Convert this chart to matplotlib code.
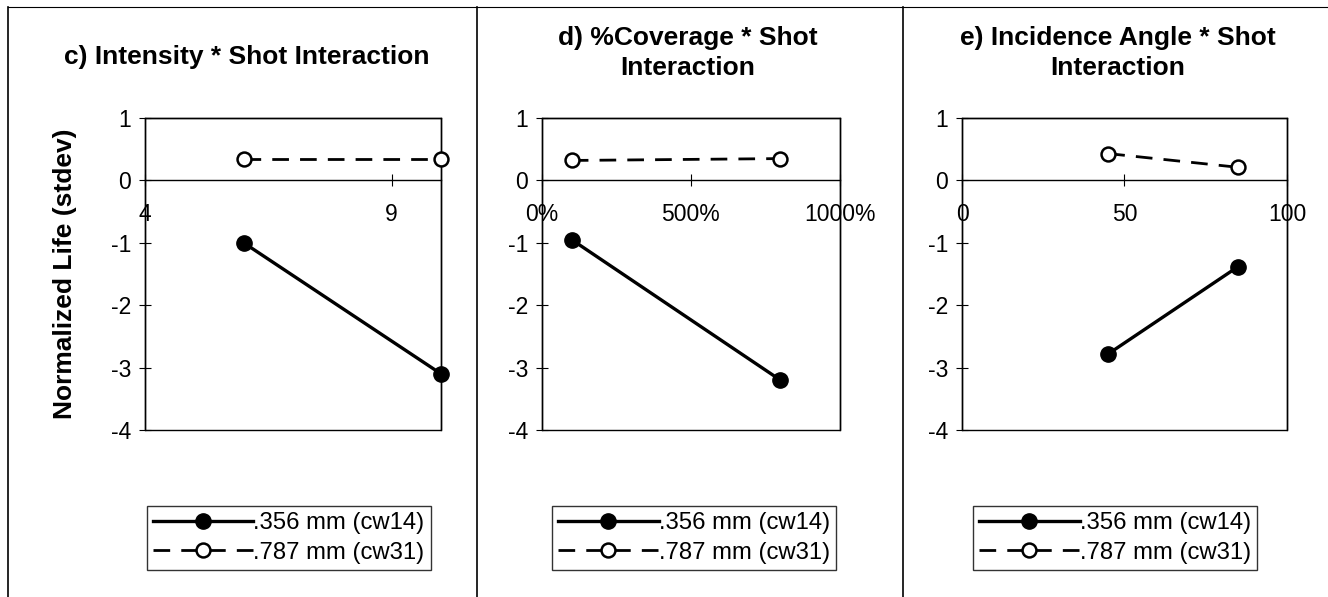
import matplotlib

matplotlib.use("Agg")
import matplotlib.pyplot as plt
import numpy as np
from matplotlib.lines import Line2D
from matplotlib.patches import Rectangle
from matplotlib.ticker import FuncFormatter, MultipleLocator

plt.rcParams["font.family"] = ["Liberation Sans", "DejaVu Sans"]
plt.rcParams["axes.unicode_minus"] = False

# --- data ------------------------------------------------------------------
titles = [
    "c) Intensity * Shot Interaction",
    "d) %Coverage * Shot\nInteraction",
    "e) Incidence Angle * Shot\nInteraction",
]
series_labels = [".356 mm (cw14)", ".787 mm (cw31)"]

intensity_x = [6, 10]
intensity_cw14 = [-1.0, -3.1]
intensity_cw31 = [0.35, 0.35]

coverage_x = [100, 800]  # percent
coverage_cw14 = [-0.95, -3.2]
coverage_cw31 = [0.32, 0.35]

angle_x = [45, 85]
angle_cw14 = [-2.78, -1.38]
angle_cw31 = [0.43, 0.21]

xlims = [(4, 10), (0, 1000), (0, 100)]
xsteps = [5, 500, 50]
ylabel = "Normalized Life (stdev)"

panels = [
    (intensity_x, intensity_cw14, intensity_cw31),
    (coverage_x, coverage_cw14, coverage_cw31),
    (angle_x, angle_cw14, angle_cw31),
]

# axes rectangles in figure fractions
ax_rects = [
    (0.1092, 0.2797, 0.2229, 0.5226),
    (0.4081, 0.2797, 0.2244, 0.5226),
    (0.7244, 0.2797, 0.2447, 0.5226),
]
title_x = [0.345, 0.49, 0.48]
title_pad = [39, 31, 31]
legend_x = [0.486, 0.51, 0.471]

fig = plt.figure(figsize=(13.28, 5.97), dpi=100)

for i, ((x, y14, y31), rect) in enumerate(zip(panels, ax_rects)):
    ax = fig.add_axes(rect)
    ax.plot(x, y14, "-o", color="k", lw=2.4, ms=11, mfc="k", mec="k",
            label=series_labels[0], clip_on=False, zorder=4)
    ax.plot(x, y31, "--o", color="k", lw=2.0, ms=10, mfc="white", mec="k",
            mew=1.8, dashes=(6, 4), label=series_labels[1], clip_on=False, zorder=4)

    lo, hi = xlims[i]
    ax.set_xlim(lo, hi)
    ax.set_ylim(-4, 1)
    ax.set_xticks(np.arange(lo, hi + 1e-9, xsteps[i]))
    ax.yaxis.set_major_locator(MultipleLocator(1))
    if i == 1:
        ax.xaxis.set_major_formatter(FuncFormatter(lambda v, _: f"{v:.0f}%"))

    # category axis crosses at zero, plot area boxed
    ax.spines["bottom"].set_position(("data", 0))
    for s in ax.spines.values():
        s.set_linewidth(1.0)
        s.set_color("k")
    ax.add_patch(Rectangle((0, 0), 1, 1, transform=ax.transAxes, fill=False,
                           lw=1.0, ec="k", clip_on=False, zorder=3))
    ax.tick_params(axis="both", direction="inout", length=8, width=0.8,
                   labelsize=16.5)
    ax.tick_params(axis="y", pad=6)
    ax.tick_params(axis="x", pad=12)

    ax.set_title(titles[i], fontsize=19, fontweight="bold", x=title_x[i],
                 pad=title_pad[i], linespacing=1.3)
    if i == 0:
        ax.set_ylabel(ylabel, fontsize=19, fontweight="bold", labelpad=24)

    leg = ax.legend(loc="center", bbox_to_anchor=(legend_x[i], -0.346), frameon=True,
                    fancybox=False, edgecolor="k", fontsize=17.2, handlelength=4.2,
                    handletextpad=0.0, borderpad=0.25, labelspacing=0.3,
                    borderaxespad=0)
    leg.get_frame().set_linewidth(1.0)

# scan frame lines: left edge, top edge, panel separators
for xf in (8 / 1328, 477 / 1328, 903 / 1328):
    fig.add_artist(Line2D([xf, xf], [0, 1 - 7 / 597], color="k", lw=1.2))
fig.add_artist(Line2D([8 / 1328, 1], [1 - 7 / 597, 1 - 7 / 597], color="k", lw=0.8))

fig.savefig("out.png", dpi=100, facecolor="white")
